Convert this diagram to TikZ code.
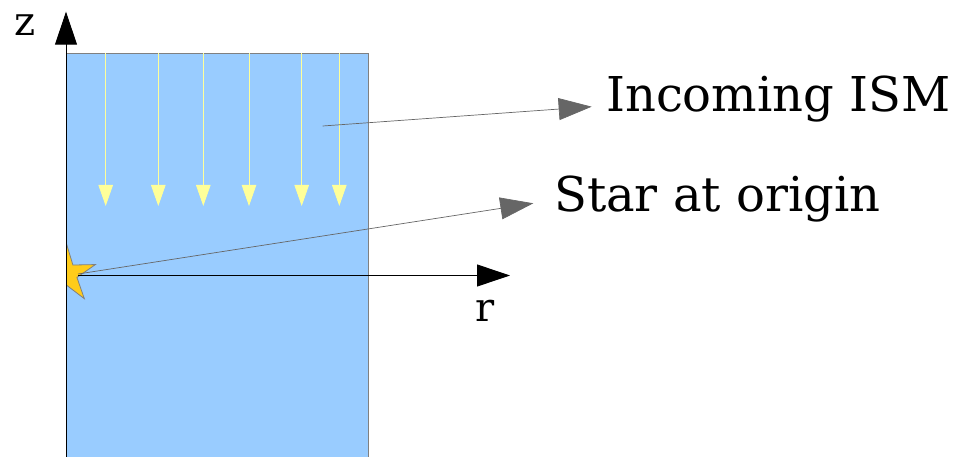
\documentclass[tikz,border=0pt]{standalone}
\usepackage{fontspec}
\setmainfont{DejaVu Serif}
\usetikzlibrary{arrows.meta, shapes.geometric}
\definecolor{flowblue}{HTML}{99CCFF}
\definecolor{ismyellow}{HTML}{FFFF99}
\definecolor{stargold}{HTML}{FFCC1A}
\definecolor{pointgray}{HTML}{666666}

\begin{document}
\begin{tikzpicture}[
    x=1pt, y=-1pt,
    axis/.style={-{Triangle[length=33pt, width=22pt]}, line width=0.9pt, black},
    flow/.style={-{Triangle[length=21pt, width=14.5pt]}, line width=0.8pt, ismyellow},
    pointer/.style={-{Triangle[length=33pt, width=22pt]}, line width=0.7pt, pointgray},
    label/.style={inner sep=0pt, font=\fontsize{40}{48}\selectfont},
    note/.style={inner sep=0pt, font=\fontsize{48}{58}\selectfont},
]
\useasboundingbox (0,0) rectangle (953,457);

% computational domain
\fill[flowblue] (66,53.3) rectangle (368.3,457);
\draw[gray, line width=1pt] (66,457) |- (368.3,53.3) -- (368.3,457);

% incoming flow
\foreach \x in {105.7,158.3,203.3,249,301.7,339.3}
    \draw[flow] (\x,53.3) -- (\x,206);

% star, only the half with r >= 0
\begin{scope}
    \clip (66,200) rectangle (120,320);
    \node[star, star points=5, minimum size=61pt, star point ratio=2.75,
          inner sep=0pt, fill=stargold, draw=gray, line width=0.8pt]
          (origin) at (66.4,274) {};
\end{scope}

% axes
\coordinate (zbot) at (66,457);
\coordinate (ztop) at (66,11.7);
\coordinate (rstart) at (78,275.5);
\coordinate (rend) at (510,275.5);
\draw[axis] (zbot) -- (ztop);
\draw[axis] (rstart) -- (rend);
\node[label, anchor=base] (zlabel) at (25,35.7) {z};
\node[label, anchor=base] (rlabel) at (485,321) {r};

% annotations
\node[note, anchor=base west] (ism) at (606,111.5) {Incoming ISM};
\node[note, anchor=base west] (startext) at (554,212) {Star at origin};
\coordinate (ismfrom) at (322.7,126);
\coordinate (ismto) at (591.7,106.7);
\coordinate (starfrom) at (78,274);
\coordinate (starto) at (533.3,203.3);
\draw[pointer] (ismfrom) -- (ismto);
\draw[pointer] (starfrom) -- (starto);

\end{tikzpicture}
\end{document}
